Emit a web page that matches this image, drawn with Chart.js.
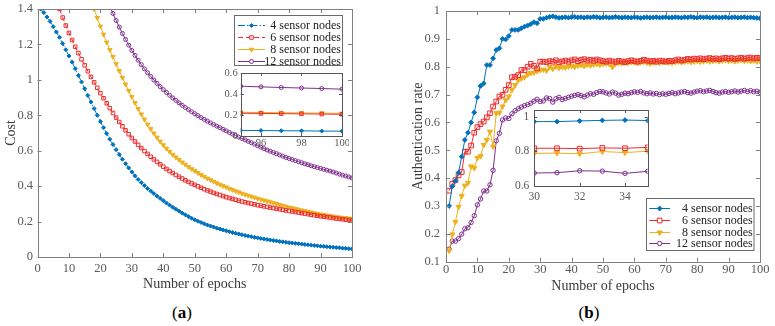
<!DOCTYPE html>
<html>
<head>
<meta charset="utf-8">
<title>Cost and authentication rate vs epochs</title>
<script src="https://cdn.jsdelivr.net/npm/chart.js@4.4.1/dist/chart.umd.min.js"></script>
<style>
  html, body { margin: 0; padding: 0; background: #fff; }
  body { position: relative; width: 775px; height: 326px; overflow: hidden; font-family: 'Liberation Serif', 'Times New Roman', serif; }
  canvas { position: absolute; }
  .cap { position: absolute; top: 303px; width: 60px; text-align: center; font-size: 17px; line-height: 20px; color: #000; }
</style>
</head>
<body>
<canvas id="costChart" width="380" height="300" style="left:0;top:0"></canvas>
<canvas id="authChart" width="380" height="300" style="left:395px;top:0"></canvas>
<canvas id="costInset" width="135" height="86" style="left:214px;top:66px"></canvas>
<canvas id="authInset" width="150" height="105" style="left:505px;top:103px"></canvas>
<div class="cap" style="left:152px">(<b>a</b>)</div>
<div class="cap" style="left:559px">(<b>b</b>)</div>
<script>
(function() {
  'use strict';

  if (typeof Chart === 'undefined') {
    console.warn('Chart.js not loaded.');
    return;
  }

  // ==========================================================================
  // Data
  // ==========================================================================

  const sensorLabels = ['4 sensor nodes', '6 sensor nodes', '8 sensor nodes', '12 sensor nodes'];
  const epochs = Array.from({ length: 100 }, (_, i) => i + 1);

  // (a) cost per epoch
  const costNodes4 = [
    1.40, 1.38, 1.355, 1.33, 1.30, 1.27, 1.24, 1.205, 1.17, 1.135,
    1.10, 1.063, 1.025, 0.988, 0.95, 0.912, 0.875, 0.838, 0.80, 0.765,
    0.73, 0.697, 0.665, 0.635, 0.606, 0.578, 0.552, 0.527, 0.503, 0.48,
    0.458, 0.438, 0.42, 0.403, 0.387, 0.372, 0.358, 0.344, 0.331, 0.318,
    0.305, 0.293, 0.281, 0.27, 0.259, 0.248, 0.238, 0.228, 0.219, 0.21,
    0.202, 0.195, 0.188, 0.181, 0.175, 0.169, 0.163, 0.158, 0.153, 0.148,
    0.143, 0.138, 0.134, 0.13, 0.126, 0.122, 0.118, 0.115, 0.111, 0.108,
    0.105, 0.102, 0.099, 0.096, 0.093, 0.091, 0.088, 0.086, 0.083, 0.081,
    0.079, 0.077, 0.075, 0.073, 0.071, 0.069, 0.067, 0.065, 0.063, 0.061,
    0.06, 0.058, 0.056, 0.055, 0.053, 0.052, 0.05, 0.049, 0.047, 0.046
  ];
  const costNodes6 = [
    null, null, null, null, null, null, 1.40, 1.352, 1.307, 1.265,
    1.225, 1.187, 1.151, 1.116, 1.082, 1.049, 1.017, 0.986, 0.955, 0.925,
    0.896, 0.868, 0.84, 0.813, 0.787, 0.762, 0.738, 0.715, 0.693, 0.672,
    0.652, 0.633, 0.615, 0.598, 0.582, 0.566, 0.551, 0.537, 0.523, 0.51,
    0.497, 0.485, 0.474, 0.463, 0.453, 0.443, 0.433, 0.424, 0.415, 0.407,
    0.399, 0.391, 0.383, 0.376, 0.369, 0.362, 0.356, 0.35, 0.344, 0.338,
    0.333, 0.328, 0.323, 0.318, 0.313, 0.309, 0.305, 0.301, 0.297, 0.293,
    0.29, 0.286, 0.283, 0.279, 0.276, 0.273, 0.27, 0.266, 0.263, 0.26,
    0.257, 0.254, 0.251, 0.248, 0.245, 0.242, 0.239, 0.236, 0.233, 0.23,
    0.228, 0.225, 0.223, 0.22, 0.217, 0.215, 0.213, 0.211, 0.209, 0.207
  ];
  const costNodes8 = [
    null, null, null, null, null, null, null, null, null, null,
    null, null, null, null, null, null, null, 1.40, 1.35, 1.302,
    1.256, 1.212, 1.17, 1.13, 1.09, 1.051, 1.013, 0.975, 0.939, 0.904,
    0.87, 0.837, 0.806, 0.777, 0.749, 0.723, 0.698, 0.675, 0.653, 0.632,
    0.613, 0.595, 0.578, 0.563, 0.549, 0.535, 0.522, 0.509, 0.497, 0.486,
    0.475, 0.464, 0.454, 0.444, 0.435, 0.426, 0.417, 0.409, 0.401, 0.394,
    0.386, 0.379, 0.372, 0.366, 0.359, 0.353, 0.347, 0.341, 0.336, 0.33,
    0.325, 0.32, 0.315, 0.31, 0.305, 0.3, 0.295, 0.29, 0.285, 0.28,
    0.276, 0.272, 0.268, 0.264, 0.26, 0.256, 0.252, 0.248, 0.244, 0.241,
    0.238, 0.235, 0.232, 0.229, 0.226, 0.224, 0.222, 0.22, 0.218, 0.216
  ];
  const costNodes12 = [
    null, null, null, null, null, null, null, null, null, null,
    null, null, null, null, null, null, null, null, null, null,
    null, null, 1.415, 1.375, 1.335, 1.298, 1.262, 1.228, 1.196, 1.166,
    1.138, 1.111, 1.086, 1.062, 1.04, 1.019, 0.999, 0.98, 0.962, 0.945,
    0.929, 0.913, 0.898, 0.884, 0.87, 0.857, 0.844, 0.832, 0.82, 0.809,
    0.798, 0.787, 0.777, 0.767, 0.757, 0.748, 0.739, 0.73, 0.721, 0.712,
    0.703, 0.694, 0.685, 0.677, 0.669, 0.661, 0.653, 0.645, 0.637, 0.628,
    0.62, 0.612, 0.604, 0.597, 0.59, 0.583, 0.576, 0.569, 0.562, 0.556,
    0.55, 0.544, 0.538, 0.532, 0.526, 0.521, 0.515, 0.51, 0.505, 0.5,
    0.495, 0.49, 0.485, 0.48, 0.474, 0.468, 0.462, 0.457, 0.452, 0.446
  ];

  // (b) authentication rate per epoch
  const authNodes4 = [
    0.30, 0.37, 0.39, 0.42, 0.477, 0.537, 0.563, 0.60, 0.636, 0.69,
    0.731, 0.74, 0.806, 0.806, 0.83, 0.86, 0.866, 0.90, 0.898, 0.91,
    0.932, 0.932, 0.932, 0.938, 0.944, 0.948, 0.953, 0.96, 0.956, 0.972,
    0.972, 0.976, 0.979, 0.981, 0.978, 0.975, 0.977, 0.978, 0.976, 0.978,
    0.979, 0.977, 0.978, 0.976, 0.978, 0.977, 0.979, 0.978, 0.976, 0.977,
    0.978, 0.976, 0.977, 0.979, 0.977, 0.976, 0.978, 0.977, 0.976, 0.978,
    0.977, 0.975, 0.977, 0.978, 0.976, 0.977, 0.978, 0.976, 0.977, 0.978,
    0.976, 0.977, 0.978, 0.977, 0.976, 0.978, 0.977, 0.979, 0.977, 0.976,
    0.978, 0.977, 0.978, 0.976, 0.977, 0.978, 0.976, 0.977, 0.978, 0.976,
    0.977, 0.978, 0.976, 0.977, 0.978, 0.976, 0.977, 0.976, 0.975, 0.974
  ];
  const authNodes6 = [
    0.355, 0.38, 0.393, 0.41, 0.422, 0.495, 0.495, 0.517, 0.563, 0.583,
    0.594, 0.603, 0.618, 0.633, 0.657, 0.675, 0.693, 0.699, 0.717, 0.734,
    0.762, 0.764, 0.77, 0.788, 0.788, 0.80, 0.81, 0.803, 0.794, 0.818,
    0.818, 0.816, 0.82, 0.818, 0.823, 0.816, 0.819, 0.822, 0.818, 0.823,
    0.826, 0.82, 0.824, 0.827, 0.822, 0.825, 0.821, 0.826, 0.823, 0.82,
    0.818, 0.822, 0.819, 0.817, 0.821, 0.819, 0.816, 0.82, 0.823, 0.82,
    0.818, 0.821, 0.825, 0.822, 0.819, 0.821, 0.818, 0.822, 0.82, 0.818,
    0.821, 0.82, 0.823, 0.826, 0.822, 0.825, 0.828, 0.826, 0.829, 0.827,
    0.83, 0.827, 0.829, 0.831, 0.828, 0.83, 0.827, 0.83, 0.832, 0.829,
    0.831, 0.828, 0.83, 0.832, 0.829, 0.831, 0.833, 0.83, 0.832, 0.831
  ];
  const authNodes8 = [
    0.14, 0.198, 0.243, 0.297, 0.336, 0.373, 0.383, 0.442, 0.436, 0.473,
    0.479, 0.519, 0.537, 0.567, 0.513, 0.633, 0.635, 0.657, 0.68, 0.693,
    0.717, 0.734, 0.752, 0.758, 0.762, 0.772, 0.777, 0.779, 0.784, 0.788,
    0.79, 0.786, 0.799, 0.793, 0.801, 0.796, 0.799, 0.797, 0.801, 0.803,
    0.80, 0.804, 0.806, 0.803, 0.807, 0.805, 0.808, 0.81, 0.807, 0.81,
    0.812, 0.81, 0.799, 0.811, 0.815, 0.813, 0.816, 0.814, 0.817, 0.815,
    0.813, 0.816, 0.818, 0.815, 0.812, 0.815, 0.817, 0.814, 0.816, 0.819,
    0.816, 0.814, 0.817, 0.819, 0.816, 0.818, 0.82, 0.817, 0.819, 0.821,
    0.818, 0.82, 0.822, 0.819, 0.821, 0.823, 0.82, 0.822, 0.824, 0.821,
    0.823, 0.82, 0.822, 0.824, 0.821, 0.823, 0.82, 0.822, 0.819, 0.821
  ];
  const authNodes12 = [
    0.145, 0.174, 0.174, 0.183, 0.199, 0.218, 0.222, 0.241, 0.265, 0.304,
    0.325, 0.354, 0.354, 0.376, 0.428, 0.534, 0.561, 0.609, 0.616, 0.614,
    0.631, 0.642, 0.649, 0.655, 0.66, 0.664, 0.669, 0.676, 0.683, 0.675,
    0.677, 0.688, 0.686, 0.673, 0.685, 0.69, 0.682, 0.686, 0.69, 0.694,
    0.697, 0.70, 0.696, 0.692, 0.698, 0.703, 0.701, 0.707, 0.711, 0.71,
    0.706, 0.702, 0.709, 0.705, 0.698, 0.701, 0.705, 0.703, 0.707, 0.71,
    0.708, 0.711, 0.706, 0.703, 0.706, 0.702, 0.704, 0.70, 0.703, 0.701,
    0.704, 0.707, 0.703, 0.706, 0.709, 0.711, 0.707, 0.705, 0.709, 0.712,
    0.714, 0.71, 0.713, 0.715, 0.711, 0.707, 0.705, 0.709, 0.711, 0.708,
    0.71, 0.713, 0.709, 0.712, 0.715, 0.711, 0.714, 0.71, 0.712, 0.708
  ];

  // tick values
  const epochTicks = [0, 10, 20, 30, 40, 50, 60, 70, 80, 90, 100];
  const costTicks = [0, 0.2, 0.4, 0.6, 0.8, 1, 1.2, 1.4];
  const costInsetEpochTicks = [96, 98, 100];
  const costInsetTicks = [0, 0.2, 0.4, 0.6];
  const authTicks = [0.1, 0.2, 0.3, 0.4, 0.5, 0.6, 0.7, 0.8, 0.9, 1];
  const authInsetEpochTicks = [30, 32, 34];
  const authInsetTicks = [0.6, 0.8, 1];

  // ==========================================================================
  // Styles
  // ==========================================================================

  const FONT = "'Liberation Serif', 'Times New Roman', serif";
  Chart.defaults.font.family = FONT;
  Chart.defaults.color = '#555';

  const BLUE = '#0072BD', RED = '#EE2C2C', YELLOW = '#EDB120', PURPLE = '#7E2F8E';

  const costLook = [
    { color: BLUE, point: 'rectRot', radius: 2, filled: true, dash: [7, 2, 1.5, 2] },
    { color: RED, point: 'rect', radius: 2.5, filled: false, dash: [5, 3] },
    { color: YELLOW, point: 'triangle', rotation: 180, radius: 2.6, filled: true, dash: [] },
    { color: PURPLE, point: 'circle', radius: 2, filled: false, dash: [] }
  ];
  const authLook = [
    { color: BLUE, point: 'rectRot', radius: 2.4, filled: true, dash: [] },
    { color: RED, point: 'rect', radius: 3.3, filled: false, dash: [] },
    { color: YELLOW, point: 'triangle', rotation: 180, radius: 3, filled: true, dash: [] },
    { color: PURPLE, point: 'circle', radius: 2.2, filled: false, dash: [] }
  ];

  function buildSets(seriesList, looks, from, to, withDash) {
    return seriesList.map((vals, i) => {
      const look = looks[i];
      return {
        label: sensorLabels[i],
        look: look,
        data: epochs.map((e, k) => ({ x: e, y: vals[k] })).filter(p => p.x >= from && p.x <= to),
        borderColor: look.color,
        backgroundColor: look.color,
        borderWidth: 1,
        borderDash: withDash ? look.dash : [],
        pointStyle: look.point,
        pointRotation: look.rotation || 0,
        pointRadius: look.radius,
        pointBorderWidth: 1,
        pointBorderColor: look.color,
        pointBackgroundColor: look.filled ? look.color : 'rgba(255,255,255,0)',
        tension: 0
      };
    });
  }

  function axis(o) {
    return {
      type: 'linear',
      min: o.min,
      max: o.max,
      grid: { display: false, drawTicks: false },
      border: { display: false },
      ticks: {
        color: '#5a5a5a',
        font: { size: o.fontSize },
        padding: o.pad,
        maxRotation: 0,
        autoSkip: false,
        callback: v => String(v)
      },
      title: o.title
        ? { display: true, text: o.title, color: '#3a3a3a', font: { size: 14 }, padding: o.titlePad }
        : { display: false },
      afterBuildTicks: s => { s.ticks = o.ticks.map(v => ({ value: v })); },
      afterFit: s => {
        if (o.width != null) s.width = o.width;
        if (o.height != null) s.height = o.height;
        s.paddingLeft = s.paddingRight = s.paddingTop = s.paddingBottom = 0;
      }
    };
  }

  // ==========================================================================
  // Plugins: box frame with inward ticks, white inset background, legend box
  // ==========================================================================

  const boxFrame = {
    id: 'boxFrame',
    afterDatasetsDraw(chart, args, opts) {
      const { ctx, chartArea: a, scales: { x, y } } = chart;
      const len = opts.tick || 4;
      ctx.save();
      ctx.strokeStyle = opts.color || '#808080';
      ctx.lineWidth = 1;
      ctx.setLineDash([]);
      ctx.beginPath();
      x.ticks.forEach(t => {
        const px = Math.round(x.getPixelForValue(t.value)) + 0.5;
        ctx.moveTo(px, a.bottom); ctx.lineTo(px, a.bottom - len);
        ctx.moveTo(px, a.top); ctx.lineTo(px, a.top + len);
      });
      y.ticks.forEach(t => {
        const py = Math.round(y.getPixelForValue(t.value)) + 0.5;
        ctx.moveTo(a.left, py); ctx.lineTo(a.left + len, py);
        ctx.moveTo(a.right, py); ctx.lineTo(a.right - len, py);
      });
      ctx.stroke();
      const l = Math.round(a.left) + 0.5, t = Math.round(a.top) + 0.5;
      ctx.strokeRect(l, t, Math.round(a.right) - Math.round(a.left), Math.round(a.bottom) - Math.round(a.top));
      ctx.restore();
    }
  };

  const insetBackground = {
    id: 'insetBackground',
    beforeDraw(chart) {
      const { ctx, chartArea: a } = chart;
      ctx.save();
      ctx.fillStyle = '#fff';
      ctx.fillRect(a.left, a.top, a.right - a.left, a.bottom - a.top);
      ctx.restore();
    }
  };

  function drawMarker(ctx, look, x, y) {
    const r = look.radius;
    ctx.beginPath();
    if (look.point === 'rect') {
      const s = r * Math.SQRT1_2;
      ctx.rect(x - s, y - s, 2 * s, 2 * s);
    } else if (look.point === 'rectRot') {
      ctx.moveTo(x - r, y); ctx.lineTo(x, y - r); ctx.lineTo(x + r, y); ctx.lineTo(x, y + r);
      ctx.closePath();
    } else if (look.point === 'triangle') {
      let ang = (look.rotation || 0) * Math.PI / 180;
      for (let k = 0; k < 3; k++) {
        const px = x + Math.sin(ang) * r, py = y - Math.cos(ang) * r;
        if (k === 0) ctx.moveTo(px, py); else ctx.lineTo(px, py);
        ang += 2 * Math.PI / 3;
      }
      ctx.closePath();
    } else {
      ctx.arc(x, y, r, 0, Math.PI * 2);
    }
    ctx.fillStyle = look.filled ? look.color : '#fff';
    ctx.fill();
    ctx.strokeStyle = look.color;
    ctx.lineWidth = 1;
    ctx.setLineDash([]);
    ctx.stroke();
  }

  const boxLegend = {
    id: 'boxLegend',
    afterDraw(chart, args, o) {
      const ctx = chart.ctx;
      ctx.save();
      ctx.fillStyle = '#fff';
      ctx.fillRect(o.left, o.top, o.width, o.height);
      ctx.strokeStyle = '#6a6a6a';
      ctx.lineWidth = 1;
      ctx.strokeRect(o.left + 0.5, o.top + 0.5, o.width, o.height);
      ctx.font = o.fontSize + "px " + FONT;
      ctx.textAlign = 'right';
      ctx.textBaseline = 'middle';
      chart.data.datasets.forEach((ds, i) => {
        const y = Math.round(o.top + o.first + i * o.step) + 0.5;
        ctx.strokeStyle = ds.look.color;
        ctx.lineWidth = 1;
        ctx.setLineDash(ds.borderDash || []);
        ctx.beginPath();
        ctx.moveTo(o.left + o.lineFrom, y);
        ctx.lineTo(o.left + o.lineTo, y);
        ctx.stroke();
        drawMarker(ctx, ds.look, o.left + (o.lineFrom + o.lineTo) / 2, y);
        ctx.fillStyle = '#222';
        ctx.fillText(ds.label, o.left + o.textRight, y + 0.5);
      });
      ctx.restore();
    }
  };

  const baseOptions = {
    responsive: false,
    animation: false,
    events: []
  };

  // ==========================================================================
  // (a) Cost
  // ==========================================================================

  new Chart(document.getElementById('costChart'), {
    type: 'line',
    data: { datasets: buildSets([costNodes4, costNodes6, costNodes8, costNodes12], costLook, 1, 100, true) },
    options: Object.assign({}, baseOptions, {
      layout: { padding: { left: 0, top: 9, right: 28, bottom: 0 } },
      plugins: {
        legend: { display: false },
        tooltip: { enabled: false },
        boxFrame: { tick: 4, color: '#808080' },
        boxLegend: { left: 234, top: 15, width: 108, height: 50, first: 10, step: 12, lineFrom: 4, lineTo: 31, textRight: 107, fontSize: 12 }
      },
      scales: {
        x: axis({ min: 0, max: 100, ticks: epochTicks, fontSize: 12.5, pad: 4, height: 43,
          title: 'Number of epochs', titlePad: { top: 0, bottom: 7.6 } }),
        y: axis({ min: 0, max: 1.4, ticks: costTicks, fontSize: 12.5, pad: 4.5, width: 37.5,
          title: 'Cost', titlePad: { top: 2.6, bottom: 0 } })
      }
    }),
    plugins: [boxFrame, boxLegend]
  });

  new Chart(document.getElementById('costInset'), {
    type: 'line',
    data: { datasets: buildSets([costNodes4, costNodes6, costNodes8, costNodes12], costLook, 95, 100, false) },
    options: Object.assign({}, baseOptions, {
      layout: { padding: { left: 0, top: 7, right: 7, bottom: 0 } },
      plugins: {
        legend: { display: false },
        tooltip: { enabled: false },
        boxFrame: { tick: 3, color: '#555' }
      },
      scales: {
        x: axis({ min: 95, max: 100, ticks: costInsetEpochTicks, fontSize: 10.5, pad: 1, height: 16 }),
        y: axis({ min: 0, max: 0.6, ticks: costInsetTicks, fontSize: 10.5, pad: 3, width: 26.7 })
      }
    }),
    plugins: [insetBackground, boxFrame]
  });

  // ==========================================================================
  // (b) Authentication rate
  // ==========================================================================

  new Chart(document.getElementById('authChart'), {
    type: 'line',
    data: { datasets: buildSets([authNodes4, authNodes6, authNodes8, authNodes12], authLook, 1, 100, false) },
    options: Object.assign({}, baseOptions, {
      layout: { padding: { left: 0, top: 11, right: 15, bottom: 0 } },
      plugins: {
        legend: { display: false },
        tooltip: { enabled: false },
        boxFrame: { tick: 4, color: '#808080' },
        boxLegend: { left: 251, top: 198, width: 107.5, height: 52, first: 10.3, step: 11.7, lineFrom: 3.3, lineTo: 24, textRight: 106.7, fontSize: 12 }
      },
      scales: {
        x: axis({ min: 0, max: 100, ticks: epochTicks, fontSize: 12.5, pad: 0.5, height: 38.3,
          title: 'Number of epochs', titlePad: { top: 0, bottom: 5.6 } }),
        y: axis({ min: 0.1, max: 1, ticks: authTicks, fontSize: 12.5, pad: 6, width: 51,
          title: 'Authentication rate', titlePad: { top: 14.6, bottom: 0 } })
      }
    }),
    plugins: [boxFrame, boxLegend]
  });

  new Chart(document.getElementById('authInset'), {
    type: 'line',
    data: { datasets: buildSets([authNodes4, authNodes6, authNodes8, authNodes12], authLook, 30, 35, false) },
    options: Object.assign({}, baseOptions, {
      layout: { padding: { left: 0, top: 7, right: 7.3, bottom: 0 } },
      plugins: {
        legend: { display: false },
        tooltip: { enabled: false },
        boxFrame: { tick: 3, color: '#555' }
      },
      scales: {
        x: axis({ min: 30, max: 35, ticks: authInsetEpochTicks, fontSize: 11.5, pad: 4, height: 22 }),
        y: axis({ min: 0.6, max: 1.039, ticks: authInsetTicks, fontSize: 11.5, pad: 5, width: 29.3 })
      }
    }),
    plugins: [insetBackground, boxFrame]
  });

})();
</script>
</body>
</html>
